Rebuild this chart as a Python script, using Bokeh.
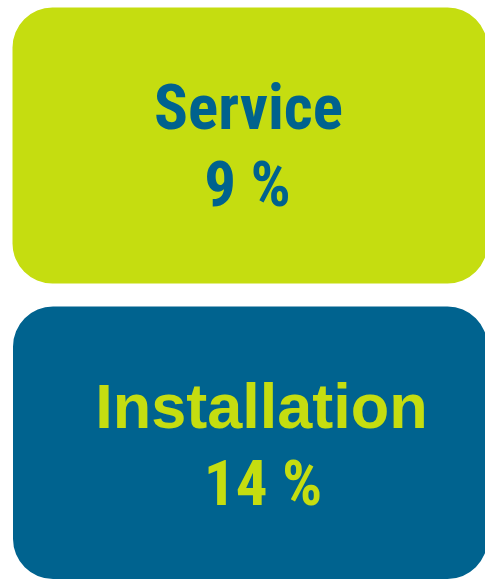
from bokeh.plotting import figure
from bokeh.models import Range1d
from bokeh.embed import file_html
from bokeh.resources import INLINE
from bokeh.core.properties import value

# data
categories = ["Service", "Installation"]
shares = [9, 14]
box_colors = ["#C5DD10", "#00638F"]
text_colors = ["#00628E", "#C5DD10"]
name_fonts = ["Roboto Condensed", "Liberation Sans"]
pct_font = "Roboto Condensed"

W, H = 485, 579
p = figure(width=W, height=H, output_backend="svg", toolbar_location=None,
           x_range=Range1d(0, W), y_range=Range1d(H, 0), min_border=0)
p.axis.visible = False
p.grid.visible = False
p.outline_line_color = None
p.background_fill_color = "white"
p.border_fill_color = "white"

# layout
lefts = [12, 12.5]
rights = [487, 487]
tops = [7, 306]
bottoms = [283, 578.5]
p.quad(left=lefts, right=rights, top=tops, bottom=bottoms,
       fill_color=box_colors, line_color=None, border_radius=40)

shift = 23
name_x = [248, 261]
name_y = [130 - shift, 428 - shift]
pct_x = [247, 262.5]
pct_y = [207 - shift, 506 - shift]

for i, cat in enumerate(categories):
    p.text(x=[name_x[i]], y=[name_y[i]], text=[cat], text_align="center",
           text_baseline="alphabetic", text_font=value(name_fonts[i]),
           text_font_style="bold", text_font_size="63px", text_color=text_colors[i])
    p.text(x=[pct_x[i]], y=[pct_y[i]], text=[f"{shares[i]} %"], text_align="center",
           text_baseline="alphabetic", text_font=value(pct_font),
           text_font_style="bold", text_font_size="63px", text_color=text_colors[i])

open("out.html", "w").write(file_html(p, INLINE))
